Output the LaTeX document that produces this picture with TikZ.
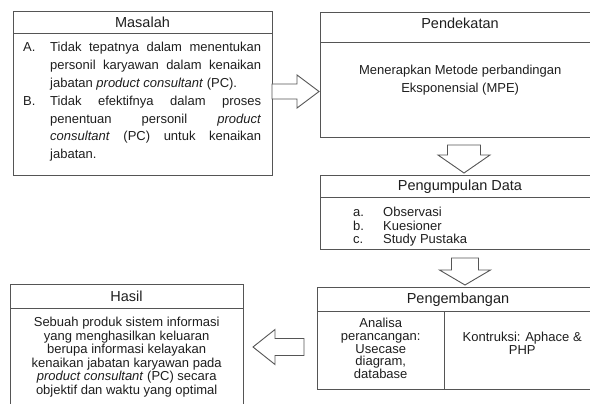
\documentclass[tikz,border=0pt]{standalone}
\usepackage{fontspec}
\setmainfont{Liberation Sans}
\definecolor{linegray}{RGB}{85,85,85}
\definecolor{textgray}{RGB}{30,30,30}
\tikzset{
  frame/.style={draw=linegray, line width=0.9pt, inner sep=0pt, outer sep=0pt, anchor=north west},
  ttl/.style={font=\fontsize{14.5}{16}\selectfont, text=textgray, inner sep=0pt, anchor=base},
  body/.style={text=textgray, inner sep=0pt, anchor=base west},
  arrline/.style={draw=linegray, line width=0.9pt, fill=white, line join=miter},
  pics/barrow/.style args={#1/#2/#3/#4}{code={
    \draw[arrline] (0,-#2) -- (#3,-#2) -- (#3,-#4) -- (#1,0) -- (#3,#4) -- (#3,#2) -- (0,#2) -- cycle;}}
}
\begin{document}
\begin{tikzpicture}[x=1pt,y=-1pt]
\useasboundingbox (0,0) rectangle (590,404);
\clip (0,0) rectangle (590,404);

% Masalah
\node[frame, minimum width=259pt, minimum height=22pt] (masH) at (13,11) {};
\node[frame, minimum width=259pt, minimum height=142pt] (masB) at (masH.south west) {};
\node[ttl] (masT) at (142.5,28) {Masalah};
\node[body] (masX) at (23,52) {\parbox[t]{238pt}{\fontsize{13}{17.8}\selectfont
  \hangindent=27pt\hangafter=1\noindent\makebox[27pt][l]{A.}Tidak tepatnya dalam menentukan\linebreak
  personil karyawan dalam kenaikan\linebreak jabatan \textit{product consultant} (PC).\par
  \hangindent=27pt\hangafter=1\noindent\makebox[27pt][l]{B.}Tidak efektifnya dalam proses\linebreak
  penentuan personil \textit{product}\linebreak \textit{consultant} (PC) untuk kenaikan\linebreak jabatan.\par}};

% Pendekatan
\node[frame, minimum width=280pt, minimum height=30pt] (pdH) at (320,12) {};
\node[frame, minimum width=280pt, minimum height=95pt] (pdB) at (pdH.south west) {};
\node[ttl] (pdT) at (460,28.5) {Pendekatan};
\node[body] (pdX) at (320,74.5) {\parbox[t]{280pt}{\centering\fontsize{13}{18}\selectfont
  Menerapkan Metode perbandingan\\Eksponensial (MPE)}};

% Pengumpulan Data
\node[frame, minimum width=280pt, minimum height=22pt] (pgH) at (320,175) {};
\node[frame, minimum width=280pt, minimum height=52pt] (pgB) at (pgH.south west) {};
\node[ttl] (pgT) at (460,190) {Pengumpulan Data};
\node[body] (pgX) at (353,216) {\parbox[t]{220pt}{\fontsize{13}{14}\selectfont
  \makebox[30pt][l]{a.}Observasi\\\makebox[30pt][l]{b.}Kuesioner\\\makebox[30pt][l]{c.}Study Pustaka}};

% Pengembangan
\node[frame, minimum width=283pt, minimum height=24pt] (pmH) at (317,287) {};
\node[frame, minimum width=127pt, minimum height=78pt] (pmL) at (pmH.south west) {};
\node[frame, minimum width=156pt, minimum height=78pt] (pmR) at (pmL.north east) {};
\node[ttl] (pmT) at (458,303) {Pengembangan};
\node[body] (pmLX) at (317,327.5) {\parbox[t]{127pt}{\centering\fontsize{13}{12.8}\selectfont
  Analisa\\perancangan:\\Usecase\\diagram,\\database}};
\node[body] (pmRX) at (444,341) {\parbox[t]{156pt}{\centering\fontsize{13}{13}\selectfont
  Kontruksi: Aphace \&\\PHP}};

% Hasil
\node[frame, minimum width=233pt, minimum height=24pt] (hsH) at (10,284) {};
\node[frame, minimum width=233pt, minimum height=112pt] (hsB) at (hsH.south west) {};
\node[ttl] (hsT) at (126.5,301) {Hasil};
\node[body] (hsX) at (10,326.5) {\parbox[t]{233pt}{\centering\fontsize{13}{13.6}\selectfont
  Sebuah produk sistem informasi\\yang menghasilkan keluaran\\berupa informasi kelayakan\\
  kenaikan jabatan karyawan pada\\\textit{product consultant} (PC) secara\\objektif dan waktu yang optimal}};

% Block arrows between the boxes
\coordinate (a1) at (masB.east |- 0,91.5);
\coordinate (a2) at (464,145);
\coordinate (a3) at (465,258);
\coordinate (a4) at (304,347);
\path (a1) pic {barrow=47/7.5/25/16.5};
\path (a2) pic[rotate=-90] {barrow=28/16.5/10/26};
\path (a3) pic[rotate=-90] {barrow=27/13.5/12/25.5};
\path (a4) pic[rotate=180] {barrow=51/8.5/29/17.5};
\end{tikzpicture}
\end{document}
